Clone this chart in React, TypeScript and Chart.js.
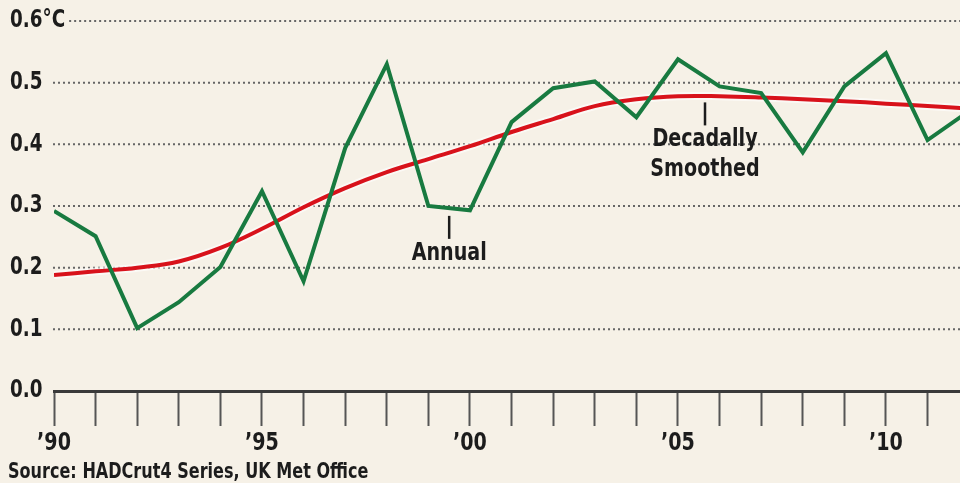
import React, { useEffect, useRef } from "react";
import { Chart, registerables } from "chart.js";
Chart.register(...registerables);

const years = [1990, 1991, 1992, 1993, 1994, 1995, 1996, 1997, 1998, 1999, 2000, 2001, 2002, 2003, 2004, 2005, 2006, 2007, 2008, 2009, 2010, 2011, 2012];
const annual = [0.292, 0.251, 0.102, 0.144, 0.201, 0.324, 0.178, 0.394, 0.53, 0.3, 0.293, 0.436, 0.491, 0.502, 0.444, 0.538, 0.494, 0.483, 0.387, 0.494, 0.548, 0.407, 0.454];
const smoothed = [0.188, 0.194, 0.2, 0.21, 0.232, 0.263, 0.298, 0.329, 0.355, 0.376, 0.397, 0.42, 0.441, 0.462, 0.473, 0.478, 0.478, 0.476, 0.473, 0.47, 0.466, 0.462, 0.458];
const yTicks = [0, 0.1, 0.2, 0.3, 0.4, 0.5, 0.6];
const yTickLabels = ["0.0", "0.1", "0.2", "0.3", "0.4", "0.5", "0.6°C"];
const xTickYears = [1990, 1995, 2000, 2005, 2010];
const xTickLabels = ["’90", "’95", "’00", "’05", "’10"];
const annotations = [
  { x: 1999.5, y: 0.284, lines: ["Annual"] },
  { x: 2005.65, y: 0.468, lines: ["Decadally", "Smoothed"] },
];
const sourceText = "Source: HADCrut4 Series, UK Met Office";

const FONT = '"DejaVu Sans Condensed", "DejaVu Sans", sans-serif';
const BG = "#f6f1e7";
const TEXT = "#1c1c1c";
const SQUEEZE = 0.85;

function squeezedText(ctx: any, text: string, x: number, y: number, align: "left" | "center") {
  ctx.save();
  ctx.translate(x, y);
  ctx.scale(SQUEEZE, 1);
  ctx.textAlign = align;
  ctx.fillText(text, 0, 0);
  ctx.restore();
  return ctx.measureText(text).width * SQUEEZE;
}

const decorPlugin = {
  id: "decor",
  beforeDraw(chart: any) {
    const { ctx, width, height } = chart;
    ctx.save();
    ctx.fillStyle = BG;
    ctx.fillRect(0, 0, width, height);
    const y = chart.scales.y;
    const area = chart.chartArea;
    ctx.font = `bold 24px ${FONT}`;
    ctx.textBaseline = "middle";
    yTicks.forEach((v, i) => {
      const py = y.getPixelForValue(v);
      ctx.fillStyle = TEXT;
      const w = squeezedText(ctx, yTickLabels[i], 10, py, "left");
      if (v === 0) return;
      const startX = Math.max(area.left - 1, 10 + w + 4);
      ctx.strokeStyle = "#666";
      ctx.lineWidth = 2;
      ctx.setLineDash([2, 3]);
      ctx.beginPath();
      ctx.moveTo(startX, py);
      ctx.lineTo(area.right, py);
      ctx.stroke();
      ctx.setLineDash([]);
    });
    ctx.restore();
  },
  afterDraw(chart: any) {
    const { ctx } = chart;
    const x = chart.scales.x;
    const y = chart.scales.y;
    ctx.save();
    ctx.fillStyle = TEXT;
    ctx.strokeStyle = TEXT;
    ctx.textBaseline = "alphabetic";
    // x tick labels
    ctx.font = `bold 25px ${FONT}`;
    xTickYears.forEach((yr, i) => {
      squeezedText(ctx, xTickLabels[i], x.getPixelForValue(yr), 450, "center");
    });
    // annotations
    ctx.font = `bold 25px ${FONT}`;
    annotations.forEach((a) => {
      const px = x.getPixelForValue(a.x);
      const py = y.getPixelForValue(a.y);
      ctx.lineWidth = 2.5;
      ctx.beginPath();
      ctx.moveTo(px, py);
      ctx.lineTo(px, py + 23);
      ctx.stroke();
      a.lines.forEach((l, i) => {
        squeezedText(ctx, l, px, py + 44 + i * 30, "center");
      });
    });
    ctx.font = `bold 21px ${FONT}`;
    squeezedText(ctx, sourceText, 8, 478, "left");
    ctx.restore();
  },
};

export default function App() {
  const ref = useRef<HTMLCanvasElement>(null);
  useEffect(() => {
    document.body.style.margin = "0";
    const chart = new Chart(ref.current!, {
      type: "line",
      data: {
        datasets: [
          {
            label: "Annual",
            data: years.map((yr, i) => ({ x: yr, y: annual[i] })),
            borderColor: "#187a40",
            borderWidth: 4,
            pointRadius: 0,
            tension: 0,
            borderJoinStyle: "miter",
          },
          {
            label: "Decadally Smoothed",
            data: years.map((yr, i) => ({ x: yr, y: smoothed[i] })),
            borderColor: "#d8121b",
            borderWidth: 4,
            pointRadius: 0,
            tension: 0.4,
          },
          {
            label: "halo",
            data: years.map((yr, i) => ({ x: yr, y: smoothed[i] })),
            borderColor: "rgba(255,255,255,0.6)",
            borderWidth: 8,
            pointRadius: 0,
            tension: 0.4,
          },
        ],
      },
      options: {
        responsive: false,
        animation: false,
        layout: { padding: { top: 21, left: 0, right: 0, bottom: 0 } },
        plugins: { legend: { display: false }, tooltip: { enabled: false } },
        scales: {
          x: {
            type: "linear",
            min: 1990,
            max: 2011.78,
            ticks: {
              stepSize: 1,
              includeBounds: false,
              autoSkip: false,
              maxRotation: 0,
              padding: 0,
              display: false,
            },
            grid: {
              display: true,
              drawOnChartArea: false,
              drawTicks: true,
              tickLength: 35,
              tickWidth: 2,
              tickColor: "#555",
              color: "#555",
            },
            border: { display: true, color: "#3a3a3a", width: 3 },
            afterFit: (s: any) => {
              s.height = 92;
              s.paddingLeft = 0;
              s.paddingRight = 0;
            },
          },
          y: {
            min: 0,
            max: 0.6,
            ticks: { stepSize: 0.1, display: false },
            grid: { display: false },
            border: { display: false },
            afterFit: (s: any) => {
              s.width = 54;
              s.paddingTop = 0;
              s.paddingBottom = 0;
            },
          },
        },
      },
      plugins: [decorPlugin],
    } as any);
    return () => chart.destroy();
  }, []);
  return (
    <div style={{ width: 960, height: 483, background: BG }}>
      <canvas ref={ref} width={960} height={483} style={{ display: "block" }} />
    </div>
  );
}
